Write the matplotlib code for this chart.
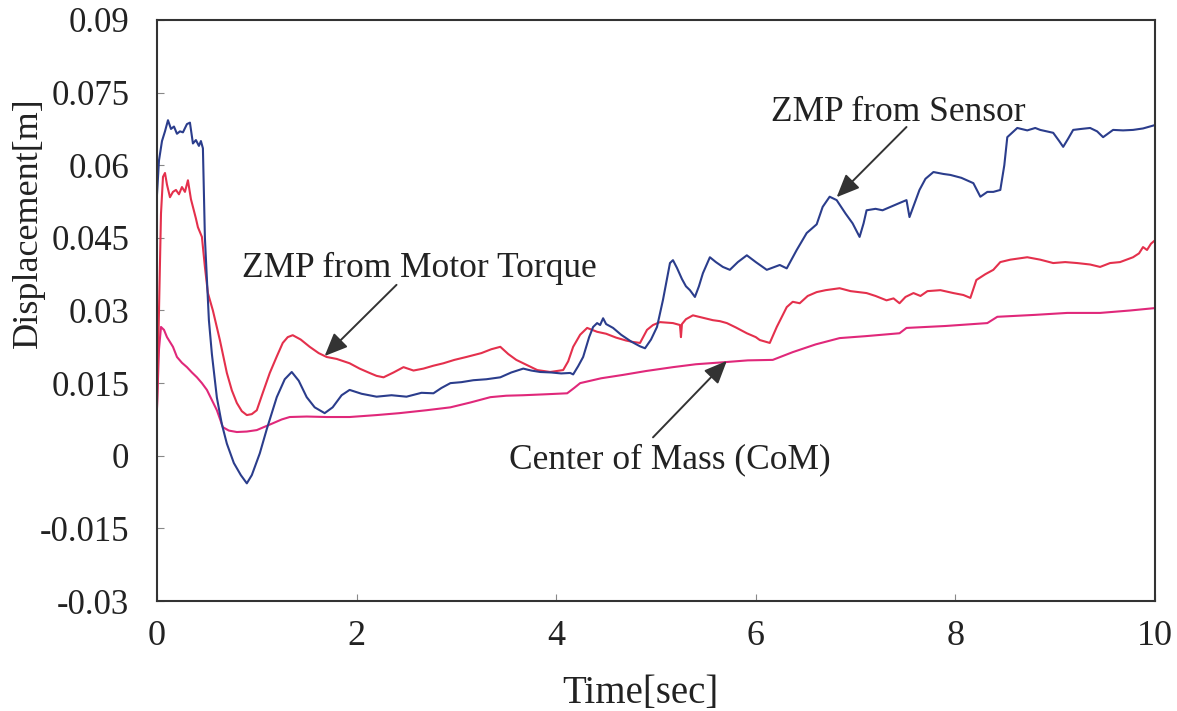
import matplotlib
matplotlib.use("Agg")
import matplotlib.pyplot as plt
from matplotlib.patches import FancyArrowPatch

plt.rcParams["font.family"] = ["Liberation Serif", "DejaVu Serif"]

# ZMP measured by the force sensors
t_sensor = [0.00, 0.02, 0.05, 0.08, 0.11, 0.14, 0.17, 0.20, 0.23, 0.26, 0.30, 0.33,
            0.36, 0.39, 0.42, 0.44, 0.46, 0.48, 0.52, 0.55, 0.60, 0.65, 0.70, 0.77,
            0.84, 0.90, 0.95, 1.03, 1.10, 1.20, 1.28, 1.35, 1.42, 1.50, 1.58, 1.68,
            1.76, 1.85, 1.93, 2.05, 2.20, 2.35, 2.50, 2.65, 2.77, 2.85, 2.94, 3.05,
            3.17, 3.30, 3.44, 3.55, 3.67, 3.75, 3.84, 3.95, 4.05, 4.14, 4.17, 4.22,
            4.27, 4.33, 4.37, 4.41, 4.44, 4.47, 4.50, 4.57, 4.65, 4.75, 4.84, 4.89,
            4.95, 5.01, 5.07, 5.11, 5.14, 5.17, 5.21, 5.26, 5.30, 5.34, 5.39, 5.43,
            5.47, 5.54, 5.60, 5.67, 5.74, 5.82, 5.91, 6.00, 6.11, 6.24, 6.31, 6.41,
            6.51, 6.61, 6.67, 6.74, 6.81, 6.90, 6.97, 7.04, 7.08, 7.11, 7.20, 7.27,
            7.36, 7.44, 7.51, 7.54, 7.64, 7.70, 7.78, 7.88, 7.95, 8.06, 8.18, 8.25,
            8.32, 8.38, 8.45, 8.49, 8.52, 8.62, 8.72, 8.80, 8.85, 8.98, 9.04, 9.08,
            9.13, 9.18, 9.26, 9.35, 9.42, 9.48, 9.58, 9.68, 9.78, 9.88, 10.00]
zmp_sensor = [0.0540, 0.0610, 0.0650, 0.0670, 0.0693, 0.0675, 0.0680, 0.0665, 0.0670,
              0.0668, 0.0685, 0.0688, 0.0645, 0.0652, 0.0640, 0.0650, 0.0635, 0.0450,
              0.0280, 0.0210, 0.0120, 0.0065, 0.0025, -0.0015, -0.0040, -0.0057,
              -0.0040, 0.0005, 0.0055, 0.0121, 0.0158, 0.0173, 0.0155, 0.0121, 0.0100,
              0.0088, 0.0100, 0.0125, 0.0136, 0.0128, 0.0122, 0.0125, 0.0122, 0.0130,
              0.0129, 0.0140, 0.0150, 0.0152, 0.0156, 0.0158, 0.0162, 0.0172, 0.0180,
              0.0176, 0.0173, 0.0172, 0.0170, 0.0171, 0.0168, 0.0185, 0.0204, 0.0245,
              0.0266, 0.0274, 0.0270, 0.0284, 0.0272, 0.0264, 0.0250, 0.0236, 0.0226,
              0.0222, 0.0240, 0.0266, 0.0322, 0.0365, 0.0398, 0.0404, 0.0388, 0.0365,
              0.0350, 0.0342, 0.0328, 0.0350, 0.0377, 0.0410, 0.0400, 0.0390, 0.0384,
              0.0400, 0.0414, 0.0400, 0.0384, 0.0394, 0.0387, 0.0425, 0.0460, 0.0478,
              0.0514, 0.0535, 0.0528, 0.0500, 0.0480, 0.0452, 0.0480, 0.0507, 0.0510,
              0.0507, 0.0515, 0.0522, 0.0528, 0.0493, 0.0549, 0.0572, 0.0586, 0.0582,
              0.0580, 0.0574, 0.0563, 0.0535, 0.0545, 0.0545, 0.0549, 0.0600, 0.0658,
              0.0677, 0.0672, 0.0677, 0.0673, 0.0667, 0.0650, 0.0638, 0.0655, 0.0673,
              0.0675, 0.0677, 0.0670, 0.0658, 0.0673, 0.0672, 0.0673, 0.0676, 0.0683]

# ZMP estimated from the joint motor torques
t_torque = [0.00, 0.02, 0.04, 0.06, 0.08, 0.10, 0.13, 0.16, 0.19, 0.22, 0.25, 0.28,
            0.31, 0.34, 0.36, 0.39, 0.41, 0.45, 0.48, 0.51, 0.56, 0.60, 0.63, 0.67,
            0.70, 0.75, 0.80, 0.85, 0.90, 0.95, 1.00, 1.06, 1.13, 1.20, 1.26, 1.31,
            1.36, 1.44, 1.53, 1.62, 1.70, 1.80, 1.93, 2.03, 2.13, 2.20, 2.27, 2.37,
            2.47, 2.57, 2.67, 2.77, 2.87, 2.98, 3.10, 3.25, 3.35, 3.44, 3.52, 3.60,
            3.70, 3.81, 3.94, 4.07, 4.12, 4.17, 4.24, 4.31, 4.36, 4.41, 4.50, 4.60,
            4.70, 4.77, 4.84, 4.91, 4.97, 5.04, 5.10, 5.17, 5.24, 5.25, 5.26, 5.30,
            5.37, 5.45, 5.57, 5.64, 5.71, 5.80, 5.91, 6.00, 6.04, 6.14, 6.21, 6.31,
            6.37, 6.44, 6.52, 6.61, 6.70, 6.84, 6.95, 7.11, 7.20, 7.31, 7.38, 7.44,
            7.50, 7.58, 7.65, 7.72, 7.85, 7.98, 8.08, 8.15, 8.21, 8.30, 8.38, 8.45,
            8.55, 8.72, 8.85, 8.98, 9.10, 9.22, 9.35, 9.45, 9.55, 9.65, 9.78, 9.84,
            9.88, 9.92, 9.96, 10.00]
zmp_torque = [0.0100, 0.0300, 0.0500, 0.0576, 0.0584, 0.0560, 0.0534, 0.0545, 0.0549,
              0.0540, 0.0555, 0.0545, 0.0569, 0.0530, 0.0514, 0.0490, 0.0472, 0.0452,
              0.0390, 0.0336, 0.0300, 0.0265, 0.0239, 0.0200, 0.0171, 0.0135, 0.0109,
              0.0092, 0.0084, 0.0086, 0.0094, 0.0130, 0.0171, 0.0205, 0.0233, 0.0245,
              0.0249, 0.0240, 0.0225, 0.0212, 0.0204, 0.0200, 0.0191, 0.0180, 0.0171,
              0.0165, 0.0162, 0.0172, 0.0183, 0.0176, 0.0180, 0.0186, 0.0191, 0.0198,
              0.0204, 0.0212, 0.0220, 0.0225, 0.0210, 0.0198, 0.0188, 0.0177, 0.0173,
              0.0177, 0.0195, 0.0225, 0.0250, 0.0264, 0.0260, 0.0256, 0.0252, 0.0244,
              0.0238, 0.0235, 0.0233, 0.0260, 0.0270, 0.0276, 0.0275, 0.0274, 0.0270,
              0.0245, 0.0272, 0.0282, 0.0290, 0.0286, 0.0280, 0.0278, 0.0274, 0.0265,
              0.0253, 0.0245, 0.0239, 0.0233, 0.0266, 0.0307, 0.0318, 0.0315, 0.0330,
              0.0338, 0.0342, 0.0346, 0.0340, 0.0336, 0.0330, 0.0321, 0.0325, 0.0315,
              0.0328, 0.0336, 0.0330, 0.0340, 0.0342, 0.0336, 0.0332, 0.0326, 0.0363,
              0.0375, 0.0384, 0.0400, 0.0405, 0.0410, 0.0405, 0.0398, 0.0400, 0.0398,
              0.0395, 0.0390, 0.0398, 0.0400, 0.0410, 0.0418, 0.0431, 0.0425, 0.0438,
              0.0445]

# Center of mass trajectory
t_com = [0.00, 0.02, 0.04, 0.07, 0.10, 0.13, 0.16, 0.20, 0.25, 0.30, 0.35, 0.40,
         0.45, 0.50, 0.55, 0.60, 0.66, 0.72, 0.80, 0.90, 1.00, 1.08, 1.16, 1.25,
         1.33, 1.50, 1.70, 1.93, 2.20, 2.43, 2.70, 2.94, 3.14, 3.34, 3.50, 3.67,
         3.90, 4.11, 4.18, 4.24, 4.45, 4.67, 4.90, 5.17, 5.40, 5.67, 5.92, 6.17,
         6.27, 6.37, 6.60, 6.84, 7.10, 7.44, 7.51, 7.90, 8.32, 8.42, 8.80, 9.12,
         9.45, 9.75, 10.00]
com = [0.0100, 0.0220, 0.0266, 0.0260, 0.0245, 0.0235, 0.0225, 0.0204, 0.0192,
       0.0183, 0.0172, 0.0162, 0.0150, 0.0136, 0.0115, 0.0094, 0.0059, 0.0052,
       0.0049, 0.0050, 0.0053, 0.0060, 0.0067, 0.0075, 0.0080, 0.0081, 0.0080,
       0.0080, 0.0084, 0.0088, 0.0094, 0.0100, 0.0110, 0.0121, 0.0124, 0.0125,
       0.0127, 0.0129, 0.0140, 0.0150, 0.0160, 0.0167, 0.0175, 0.0183, 0.0189,
       0.0193, 0.0197, 0.0198, 0.0206, 0.0214, 0.0230, 0.0243, 0.0247, 0.0253,
       0.0264, 0.0268, 0.0274, 0.0287, 0.0291, 0.0295, 0.0295, 0.0300, 0.0305]

x_ticks = [0, 2, 4, 6, 8, 10]
y_ticks = [-0.03, -0.015, 0, 0.015, 0.03, 0.045, 0.06, 0.075, 0.09]
y_tick_labels = ["-0.03", "-0.015", "0", "0.015", "0.03", "0.045", "0.06", "0.075", "0.09"]

fig = plt.figure(figsize=(11.77, 7.11), dpi=100)
ax = fig.add_axes([157 / 1177, 1 - 601 / 711, 998 / 1177, 581 / 711])

ax.plot(t_com, com, color="#e0287a", lw=1.5)
ax.plot(t_torque, zmp_torque, color="#e4304c", lw=1.5)
ax.plot(t_sensor, zmp_sensor, color="#2b3d8c", lw=1.5)

ax.set_xlim(0, 10)
ax.set_ylim(-0.03, 0.09)
ax.set_xticks(x_ticks)
ax.set_xticklabels([str(v) for v in x_ticks])
ax.set_yticks(y_ticks)
ax.set_yticklabels(y_tick_labels)
ax.tick_params(direction="in", length=5, width=0.8, colors="#888888",
               labelcolor="#222222")
ax.tick_params(axis="y", pad=20, labelsize=25)
ax.tick_params(axis="x", pad=14, labelsize=26)
for s in ax.spines.values():
    s.set_color("#333333")
    s.set_linewidth(1.5)

ax.set_xlabel("Time[sec]", fontsize=28, color="#222222")
ax.xaxis.set_label_coords((640 - 157) / 998, (601 - 694) / 581)
ax.xaxis.label.set_va("center")
ax.set_ylabel("Displacement[m]", fontsize=26, color="#222222")
ax.yaxis.set_label_coords((28 - 157) / 998, (601 - 223) / 581)
ax.yaxis.label.set_va("center")

text_kw = dict(fontsize=25.5, color="#222222", ha="left", va="baseline")
ax.text(6.15, 0.0691, "ZMP from Sensor", **text_kw)
ax.text(0.85, 0.0369, "ZMP from Motor Torque", **text_kw)
ax.text(3.53, -0.0026, "Center of Mass (CoM)", **text_kw)

arrows = [((7.51, 0.0679), (6.81, 0.0534)),
          ((2.40, 0.0353), (1.68, 0.0206)),
          ((4.97, 0.0038), (5.71, 0.0196))]
for tail, head in arrows:
    ax.add_patch(FancyArrowPatch(tail, head,
                                 arrowstyle="-|>,head_length=14,head_width=6",
                                 mutation_scale=1, lw=1.4,
                                 color="#333333", facecolor="#555555",
                                 shrinkA=0, shrinkB=0, zorder=5))

fig.savefig("out.png", dpi=100, facecolor="white")
